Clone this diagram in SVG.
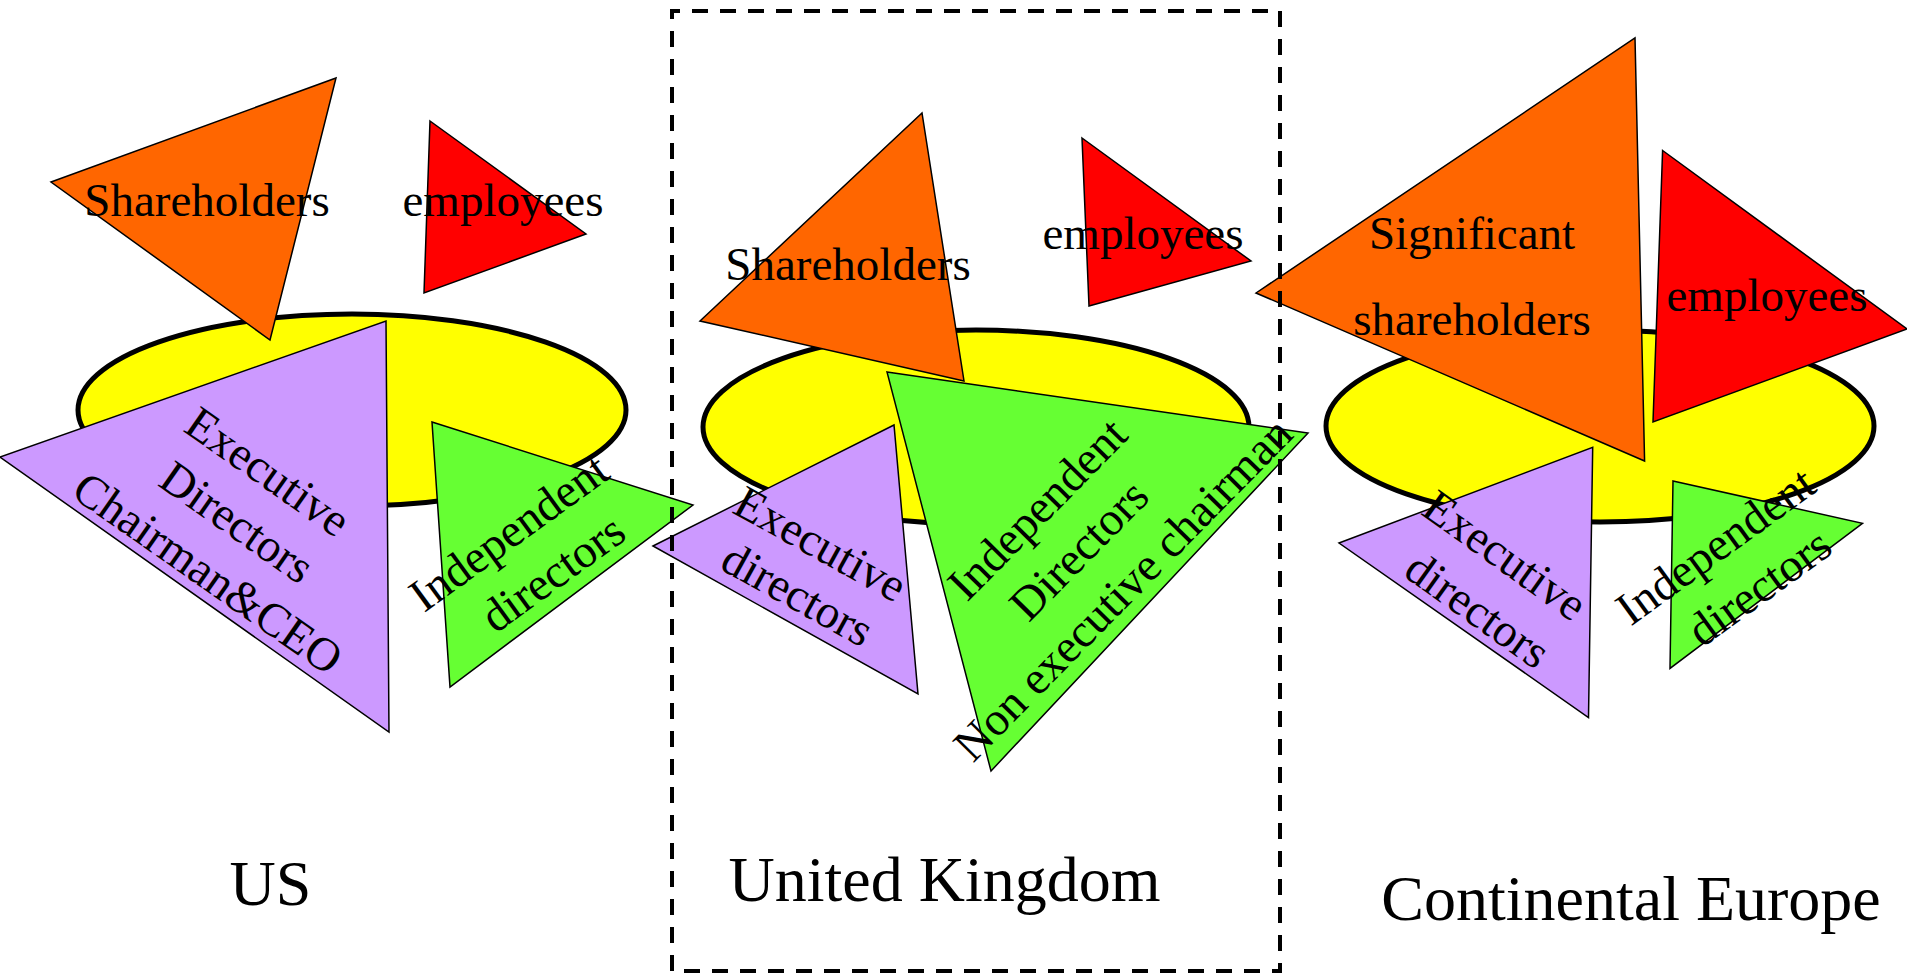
<svg xmlns="http://www.w3.org/2000/svg" width="1907" height="973" viewBox="0 0 1907 973">
  <style>
    .board { fill: #FFFF00; stroke: #000; stroke-width: 5; }
    .tri { stroke: #000; stroke-width: 1.5; stroke-linejoin: miter; }
    .own { fill: #FF6600; }
    .emp { fill: #FF0000; }
    .exe { fill: #CC99FF; }
    .ind { fill: #66FF33; }
    .lbl { font-family: "Liberation Serif", "Times New Roman", serif; font-size: 47px; fill: #000; text-anchor: middle; }
    .region { font-family: "Liberation Serif", "Times New Roman", serif; font-size: 64px; fill: #000; text-anchor: middle; }
    .frame { fill: none; stroke: #000; stroke-width: 4; stroke-dasharray: 16 12; stroke-dashoffset: 8; }
  </style>
  <rect width="1907" height="973" fill="#fff"/>

  <!-- United States model -->
  <g id="us">
    <ellipse id="us-board" class="board" cx="352" cy="410" rx="274" ry="96"/>
    <g id="us-shareholders">
      <polygon class="tri own" points="51,182 336,78 270,340"/>
      <text class="lbl" x="207" y="216">Shareholders</text>
    </g>
    <g id="us-employees">
      <polygon class="tri emp" points="430,121 586,234 424,293"/>
      <text class="lbl" x="503" y="216">employees</text>
    </g>
    <g id="us-executive">
      <polygon class="tri exe" points="0,457 386,321 389,732"/>
      <text class="lbl" transform="translate(259,484.5) rotate(35)">Executive</text>
      <text class="lbl" transform="translate(228,535) rotate(35)">Directors</text>
      <text class="lbl" transform="translate(199,586) rotate(35)">Chairman&amp;CEO</text>
    </g>
    <g id="us-independent">
      <polygon class="tri ind" points="432,422 693,505 450,687"/>
      <text class="lbl" transform="translate(518,545) rotate(-36)">Independent</text>
      <text class="lbl" transform="translate(562,586) rotate(-36)">directors</text>
    </g>
  </g>

  <!-- United Kingdom model -->
  <g id="uk">
    <ellipse id="uk-board" class="board" cx="976" cy="427" rx="273" ry="97"/>
    <g id="uk-shareholders">
      <polygon class="tri own" points="700,321 922,113 964,381"/>
      <text class="lbl" x="848" y="280">Shareholders</text>
    </g>
    <g id="uk-employees">
      <polygon class="tri emp" points="1082,138 1251,261 1089,306"/>
      <text class="lbl" x="1143" y="249">employees</text>
    </g>
    <g id="uk-executive">
      <polygon class="tri exe" points="653,546 894,425 918,694"/>
      <text class="lbl" transform="translate(813,557.5) rotate(29)">Executive</text>
      <text class="lbl" transform="translate(790,608) rotate(29)">directors</text>
    </g>
    <g id="uk-independent">
      <polygon class="tri ind" points="887,372 1308,433 991,771"/>
      <text class="lbl" transform="translate(1048.5,520) rotate(-45.5)">Independent</text>
      <text class="lbl" transform="translate(1090,561) rotate(-45.5)">Directors</text>
      <text class="lbl" transform="translate(1134,600) rotate(-45.5)">Non executive chairman</text>
    </g>
  </g>

  <!-- Continental European model -->
  <g id="ce">
    <ellipse id="ce-board" class="board" cx="1600" cy="426" rx="274" ry="96"/>
    <g id="ce-shareholders">
      <polygon class="tri own" points="1256,293 1635,38 1644.6,461"/>
      <text class="lbl" x="1472" y="249">Significant</text>
      <text class="lbl" x="1472" y="335">shareholders</text>
    </g>
    <g id="ce-employees">
      <polygon class="tri emp" points="1662.6,150.5 1907,329 1653,422"/>
      <text class="lbl" x="1767" y="311">employees</text>
    </g>
    <g id="ce-executive">
      <polygon class="tri exe" points="1339,543 1592.7,447.4 1588.5,717.5"/>
      <text class="lbl" transform="translate(1496,568) rotate(35.5)">Executive</text>
      <text class="lbl" transform="translate(1468.6,622.7) rotate(35.5)">directors</text>
    </g>
    <g id="ce-independent">
      <polygon class="tri ind" points="1673,481 1862.5,523.3 1670,668.4"/>
      <text class="lbl" transform="translate(1724.7,558.5) rotate(-36)">Independent</text>
      <text class="lbl" transform="translate(1768.4,600) rotate(-36)">directors</text>
    </g>
  </g>

  <!-- region captions -->
  <g id="captions">
    <text class="region" x="270.5" y="905">US</text>
    <text class="region" x="944.5" y="901">United Kingdom</text>
    <text class="region" x="1631" y="920">Continental Europe</text>
  </g>

  <!-- highlight frame round the UK model -->
  <g id="connectors">
    <rect id="uk-frame" class="frame" x="672" y="11" width="608" height="960"/>
  </g>
</svg>
